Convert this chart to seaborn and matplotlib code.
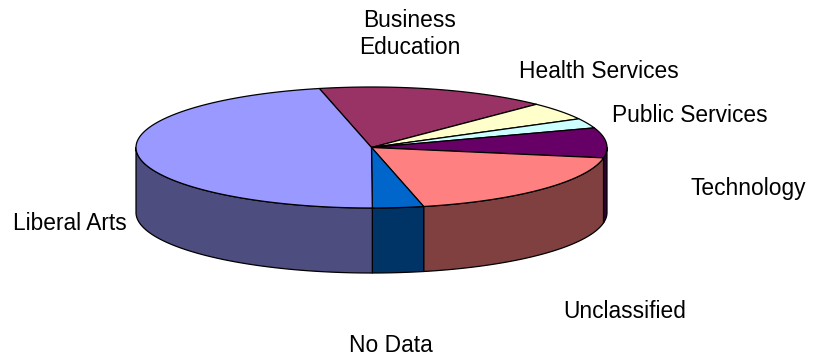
import numpy as np
import matplotlib
matplotlib.use("Agg")
import matplotlib.pyplot as plt
from matplotlib.patches import Polygon
from matplotlib.colors import to_rgb
import seaborn as sns

# Enrollment share by program area (percent), clockwise from the first slice
categories = ["Business\nEducation", "Health Services", "Public Services",
              "Technology", "Unclassified", "No Data", "Liberal Arts"]
shares = [15.9, 4.8, 2.6, 8.0, 18.7, 3.5, 46.5]
slice_colors = ["#993366", "#FFFFCC", "#CCFFFF", "#660066",
                "#FF8080", "#0066CC", "#9999FF"]

# label anchors in pixel space (layout only)
label_xy = [(410, 34), (599, 72), (690, 115), (748, 188),
            (625, 311), (391, 346), (70, 224)]

sns.set_theme(style="white")
plt.rcParams["font.family"] = ["Liberation Sans", "DejaVu Sans"]

W, H = 823, 357
fig = plt.figure(figsize=(W / 100, H / 100), dpi=100)
ax = fig.add_axes([0, 0, 1, 1])
ax.set_xlim(0, W)
ax.set_ylim(H, 0)
ax.axis("off")

# tilted-disc geometry
cx, cy, rx, ry, depth = 371.5, 147.5, 235.5, 60.5, 65
start_angle = -12.8  # degrees, clockwise from 12 o'clock


def arc(t0, t1, dy=0.0):
    n = max(3, int(abs(t1 - t0) * 2))
    t = np.radians(np.linspace(t0, t1, n))
    return np.column_stack([cx + rx * np.sin(t), cy - ry * np.cos(t) + dy])


palette = sns.color_palette(slice_colors)
angles = start_angle + np.concatenate([[0], np.cumsum(shares)]) / sum(shares) * 360

# outer walls (only the front half of the rim is visible)
for i, col in enumerate(palette):
    a0, a1 = angles[i], angles[i + 1]
    lo, hi = max(a0, 90), min(a1, 270)
    if hi > lo:
        top = arc(lo, hi)
        bottom = arc(hi, lo, depth)
        side = tuple(np.array(to_rgb(col)) * 0.5)
        ax.add_patch(Polygon(np.vstack([top, bottom]), closed=True,
                             facecolor=side, edgecolor="black", lw=0.9,
                             joinstyle="round"))

# top faces
for i, col in enumerate(palette):
    a0, a1 = angles[i], angles[i + 1]
    pts = np.vstack([[cx, cy], arc(a0, a1)])
    ax.add_patch(Polygon(pts, closed=True, facecolor=col,
                         edgecolor="black", lw=0.9, joinstyle="round"))

for name, (x, y) in zip(categories, label_xy):
    ax.text(x, y, name, ha="center", va="center", fontsize=16.4,
            color="black", linespacing=1.2)

fig.savefig("out.png", dpi=100, facecolor="white")
